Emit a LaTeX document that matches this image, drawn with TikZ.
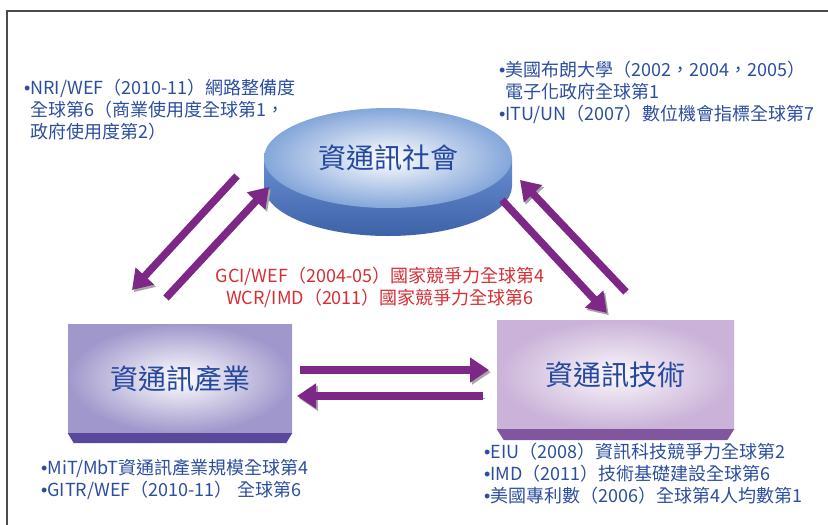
\documentclass[tikz,border=0pt]{standalone}
\usepackage{fontspec}
\setmainfont{Noto Sans CJK TC}
\newfontfamily\bulletfont{Liberation Sans}
\newcommand\bul{{\bulletfont •}}
\usetikzlibrary{arrows.meta,positioning,calc,shapes.geometric}

\definecolor{infoblue}{RGB}{44,78,158}
\definecolor{titleblue}{RGB}{38,72,158}
\definecolor{rankred}{RGB}{214,46,52}
\definecolor{arrpurple}{RGB}{125,40,135}
\definecolor{socblue}{RGB}{132,166,218}
\definecolor{socsidetop}{RGB}{104,142,208}
\definecolor{socsidebot}{RGB}{62,98,168}
\definecolor{indlav}{RGB}{160,152,204}
\definecolor{indside}{RGB}{90,72,156}
\definecolor{teclav}{RGB}{202,178,216}
\definecolor{tecside}{RGB}{128,86,158}

\begin{document}
\begin{tikzpicture}[x=1pt, y=-1pt,
    every node/.style={inner sep=0pt},
    title/.style={text=titleblue, font=\fontsize{28}{30}\selectfont},
    box/.style={title, rectangle, minimum height=109pt},
    info/.style={anchor=north west, align=left, text=infoblue, font=\fontsize{18}{22}\selectfont},
    rank/.style={anchor=north, align=center, text=rankred, font=\fontsize{18}{22}\selectfont},
    arr/.style={-{Triangle[length=19pt,width=24pt]}, line width=7.5pt, draw=arrpurple,
                preaction={draw=black!35, transform canvas={shift={(1.8pt,-2.2pt)}}}},
  ]
  \useasboundingbox (0,0) rectangle (828,525);
  \draw[black!70, line width=1.2pt] (7,525) -- (7,11) -- (828,11);

  % society (cylinder disc)
  \shade[top color=socsidetop, bottom color=socsidebot] (264,158) -- (264,186)
    arc[start angle=180, end angle=0, x radius=124, y radius=50] -- (512,158) -- cycle;
  \node[title, ellipse, minimum width=248pt, minimum height=100pt,
        inner color=white, outer color=socblue] (soc) at (388,158) {資通訊社會};

  % industry
  \node[box, minimum width=224pt, inner color=white, outer color=indlav] (ind) at (180,378.5) {資通訊產業};
  \fill[indside] (ind.south west) -- (ind.south east) -- ($(ind.south east)+(-6,10)$)
    -- ($(ind.south west)+(6,10)$) -- cycle;

  % technology
  \node[box, minimum width=237pt, inner color=white!92!teclav, outer color=teclav] (tec) at (615.5,374.5) {資通訊技術};
  \fill[tecside] (tec.south west) -- (tec.south east) -- ($(tec.south east)+(-7,11)$)
    -- ($(tec.south west)+(7,11)$) -- cycle;

  % arrow ends
  \coordinate (sl1) at (237,176);  \coordinate (il1) at (132,290);
  \coordinate (il2) at (166,298);  \coordinate (sl2) at (269,187);
  \coordinate (sr1) at (502,200);  \coordinate (tr1) at (607,313);
  \coordinate (tr2) at (626,292);  \coordinate (sr2) at (520,180);
  \coordinate (ih1) at (300,370);  \coordinate (th1) at (489,370);
  \coordinate (th2) at (483,396);  \coordinate (ih2) at (297,396);

  \draw[arr] (sl1) -- (il1);
  \draw[arr] (il2) -- (sl2);
  \draw[arr] (sr1) -- (tr1);
  \draw[arr] (tr2) -- (sr2);
  \draw[arr] (ih1) -- (th1);
  \draw[arr] (th2) -- (ih2);

  % rankings
  \node[info] (socl) at (24,79) {\bul NRI/WEF（2010-11）網路整備度\\
    \phantom{\bul}全球第6（商業使用度全球第1，\\
    \phantom{\bul}政府使用度第2）};
  \node[info] (socr) at (499,61) {\bul 美國布朗大學（2002，2004，2005）\\
    \phantom{\bul}電子化政府全球第1\\
    \bul ITU/UN（2007）數位機會指標全球第7};
  \node[rank] (mid) at (380,267) {GCI/WEF（2004-05）國家競爭力全球第4\\
    WCR/IMD（2011）國家競爭力全球第6};
  \node[info] (indb) at (41,459) {\bul MiT/MbT資通訊產業規模全球第4\\
    \bul GITR/WEF（2010-11） 全球第6};
  \node[info] (tecb) at (484,443) {\bul EIU（2008）資訊科技競爭力全球第2\\
    \bul IMD（2011）技術基礎建設全球第6\\
    \bul 美國專利數（2006）全球第4人均數第1};
\end{tikzpicture}
\end{document}
